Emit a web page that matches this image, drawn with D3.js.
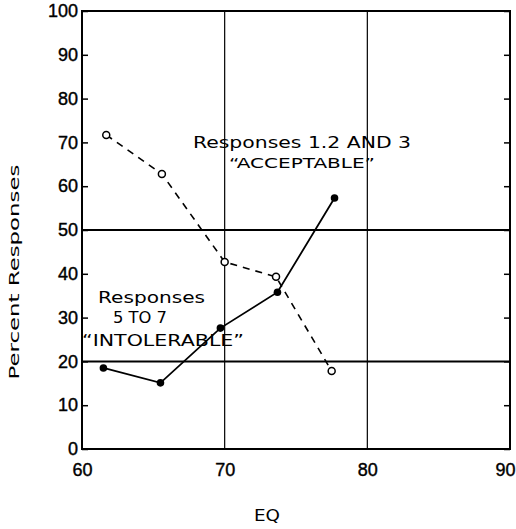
<!DOCTYPE html>
<html><head><meta charset="utf-8">
<script src="https://cdn.jsdelivr.net/npm/d3@7"></script>
<style>body{margin:0;background:#fff}svg{display:block}</style>
</head><body>
<script>
const acceptEQ = [61.7, 65.6, 70.0, 73.6, 77.5];
const acceptPct = [71.7, 62.8, 42.7, 39.3, 17.8];
const intolEQ = [61.5, 65.5, 69.7, 73.7, 77.7];
const intolPct = [18.5, 15.1, 27.6, 35.8, 57.3];
const xTicks = [60, 70, 80, 90];
const yTicks = [0, 10, 20, 30, 40, 50, 60, 70, 80, 90, 100];
const hGrid = [20, 50];
const vGrid = [70, 80];

const W = 516, H = 529;
const svg = d3.select("body").append("svg").attr("width", W).attr("height", H);
const x = d3.scaleLinear().domain([60, 90]).range([82, 510]);
const y = d3.scaleLinear().domain([0, 100]).range([449, 11]);
const tickFont = "'Liberation Sans', Arial, sans-serif";

// grid
svg.selectAll(".hg").data(hGrid).enter().append("line")
  .attr("x1", x(60)).attr("x2", x(90)).attr("y1", d => y(d)).attr("y2", d => y(d))
  .attr("stroke", "#000").attr("stroke-width", 2);
svg.selectAll(".vg").data(vGrid).enter().append("line")
  .attr("y1", y(0)).attr("y2", y(100)).attr("x1", d => x(d)).attr("x2", d => x(d))
  .attr("stroke", "#000").attr("stroke-width", 1.2);

// frame
svg.append("rect").attr("x", x(60)).attr("y", y(100)).attr("width", x(90) - x(60)).attr("height", y(0) - y(100))
  .attr("fill", "none").attr("stroke", "#000").attr("stroke-width", 2);

// axes
const yAxis = d3.axisLeft(y).tickValues(yTicks).tickSize(-6).tickPadding(10).tickFormat(d3.format("d"));
const gy = svg.append("g").attr("transform", `translate(${x(60)},0)`).call(yAxis);
gy.select(".domain").remove();
gy.selectAll("line").attr("stroke-width", 1.5);
gy.selectAll("text").attr("font-family", tickFont).attr("font-size", 18).attr("fill", "#000")
  .attr("stroke", "#000").attr("stroke-width", 0.4).attr("x", -4);

const yAxisR = d3.axisRight(y).tickValues(yTicks).tickSize(-6).tickFormat("");
const gyr = svg.append("g").attr("transform", `translate(${x(90)},0)`).call(yAxisR);
gyr.select(".domain").remove();
gyr.selectAll("line").attr("stroke-width", 1.5);

const xAxis = d3.axisBottom(x).tickValues(xTicks).tickSize(0).tickPadding(14).tickFormat(d3.format("d"));
const gx = svg.append("g").attr("transform", `translate(0,${y(0)})`).call(xAxis);
gx.select(".domain").remove();
gx.selectAll("text").attr("font-family", tickFont).attr("font-size", 18).attr("fill", "#000")
  .attr("stroke", "#000").attr("stroke-width", 0.4);
gx.selectAll(".tick").filter(d => d === 90).select("text").attr("text-anchor", "end").attr("x", 515 - x(90));

// axis titles
svg.append("text").attr("x", 267).attr("y", 521).attr("text-anchor", "middle")
  .attr("font-family", "'DejaVu Sans', sans-serif").attr("font-size", 16).attr("textLength", 26)
  .attr("lengthAdjust", "spacingAndGlyphs").text("EQ");
svg.append("text").attr("transform", "translate(19,272) rotate(-90)").attr("text-anchor", "middle")
  .attr("font-family", "'DejaVu Sans', sans-serif").attr("font-size", 14).attr("textLength", 215)
  .attr("lengthAdjust", "spacingAndGlyphs").text("Percent Responses");

// series
const acc = acceptEQ.map((d, i) => [d, acceptPct[i]]);
const intol = intolEQ.map((d, i) => [d, intolPct[i]]);
const line = d3.line().x(d => x(d[0])).y(d => y(d[1]));
svg.append("path").attr("d", line(acc)).attr("fill", "none").attr("stroke", "#000")
  .attr("stroke-width", 1.6).attr("stroke-dasharray", "7,6");
svg.append("path").attr("d", line(intol)).attr("fill", "none").attr("stroke", "#000").attr("stroke-width", 1.8);
svg.selectAll(".ac").data(acc).enter().append("circle")
  .attr("cx", d => x(d[0])).attr("cy", d => y(d[1])).attr("r", 3.5)
  .attr("fill", "#fff").attr("stroke", "#000").attr("stroke-width", 1.5);
svg.selectAll(".ic").data(intol).enter().append("circle")
  .attr("cx", d => x(d[0])).attr("cy", d => y(d[1])).attr("r", 3.8).attr("fill", "#000");

// annotations
const annFont = "'DejaVu Sans', sans-serif";
function ann(tx, ty, txt, len, size) {
  svg.append("text").attr("x", tx).attr("y", ty).attr("font-family", annFont).attr("font-size", size)
    .attr("textLength", len).attr("lengthAdjust", "spacingAndGlyphs").text(txt);
}
ann(193, 148, "Responses 1.2 AND 3", 218, 16);
ann(229, 168, "\u201CACCEPTABLE\u201D", 146, 14);
ann(98, 303, "Responses", 107, 16);
ann(113, 323, "5 TO 7", 54, 15);
ann(82, 346, "\u201CINTOLERABLE\u201D", 162, 15);
</script>
</body></html>
